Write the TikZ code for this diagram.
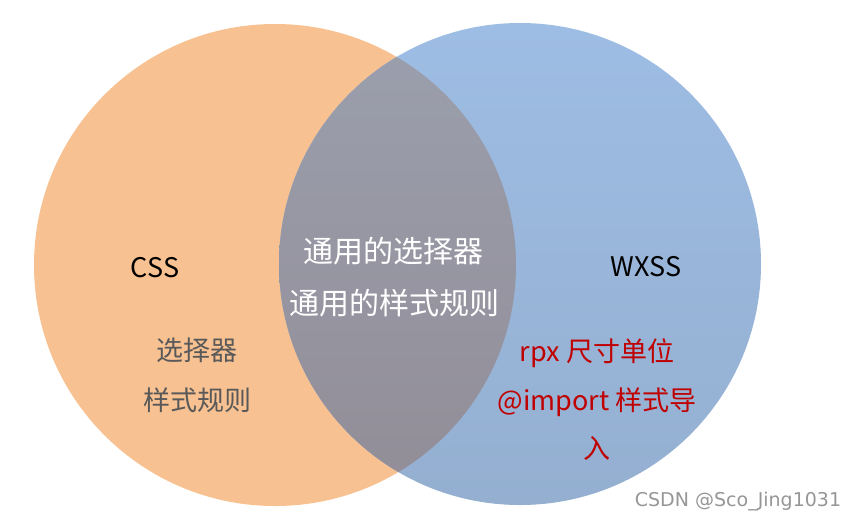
\documentclass[tikz,border=0pt]{standalone}
\usepackage{fontspec}
\setmainfont{Noto Sans CJK SC}
\newfontfamily\wmfont{DejaVu Sans}
\definecolor{cssfill}{RGB}{248,193,145}
\definecolor{wxtop}{RGB}{158,189,228}
\definecolor{wxbot}{RGB}{148,175,208}
\definecolor{mixtop}{RGB}{155,159,173}
\definecolor{mixbot}{RGB}{146,141,151}
\definecolor{txtgray}{RGB}{89,89,89}
\definecolor{txtred}{RGB}{192,0,0}
\definecolor{wmgray}{RGB}{150,150,150}
\begin{document}
\begin{tikzpicture}[x=1pt,y=-1pt,
    lbl/.style={inner sep=0pt,font=\fontsize{27}{27}\selectfont},
    zh/.style={inner sep=0pt,font=\fontsize{27}{27}\selectfont},
    zhw/.style={inner sep=0pt,text=white,font=\fontsize{30}{30}\selectfont}]
    \useasboundingbox (0,0) rectangle (846,523);
    \coordinate (L) at (275,265);
    \coordinate (R) at (520,264);
    % the two sets
    \fill[cssfill] (L) circle (241pt);
    \shade[top color=wxtop,bottom color=wxbot] (R) circle (241pt);
    \begin{scope}
      \clip (L) circle (241pt);
      \shade[top color=mixtop,bottom color=mixbot] (R) circle (241pt);
    \end{scope}
    \node[lbl] (css) at (155,268) {CSS};
    \node[lbl] (wxss) at (646,267) {WXSS};
    \node[zh,text=txtgray] (sel) at (197,350) {选择器};
    \node[zh,text=txtgray] (rule) at (197,400) {样式规则};
    \node[zhw] (csel) at (393,251) {通用的选择器};
    \node[zhw] (crule) at (394,303) {通用的样式规则};
    \node[zh,text=txtred] (rpx) at (597,353) {rpx 尺寸单位};
    \node[zh,text=txtred] (imp) at (597,402) {@import 样式导};
    \node[zh,text=txtred] (imp2) at (597,448) {入};
    \node[inner sep=0pt,text=wmgray,font=\wmfont\fontsize{19}{19}\selectfont] (wm) at (738,502) {CSDN @Sco\_Jing1031};
  \end{tikzpicture}
\end{document}
